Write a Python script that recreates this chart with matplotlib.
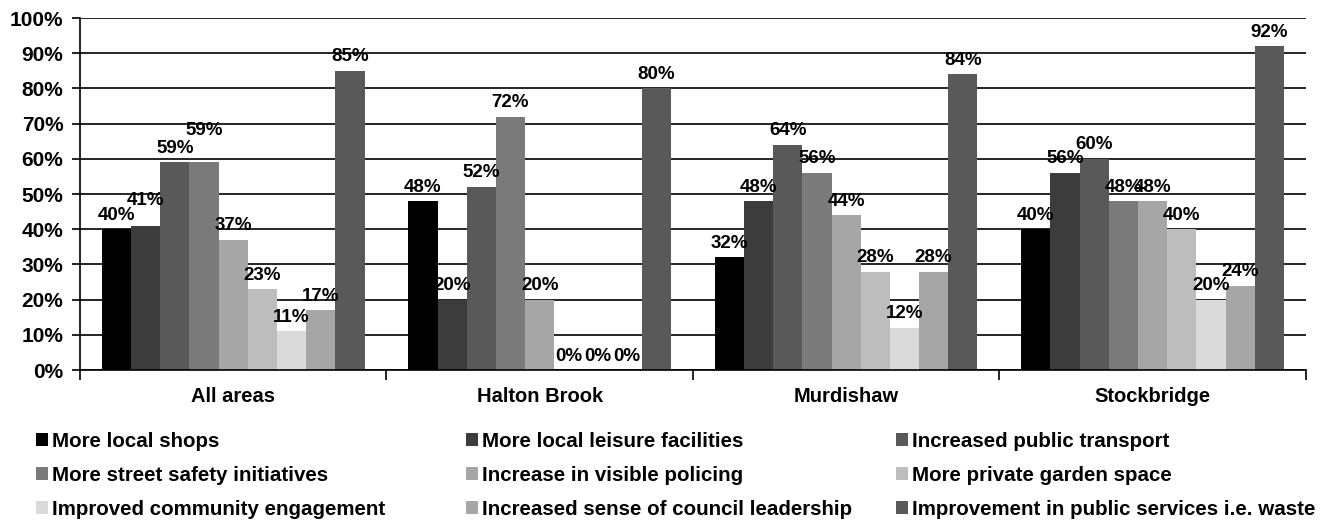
import numpy as np
import matplotlib.pyplot as plt
from matplotlib.patches import Patch

plt.rcParams['font.family'] = ['Liberation Sans', 'DejaVu Sans']
plt.rcParams['font.weight'] = 'bold'

# data
areas = ['All areas', 'Halton Brook', 'Murdishaw', 'Stockbridge']
series_names = ['More local shops', 'More local leisure facilities', 'Increased public transport',
                'More street safety initiatives', 'Increase in visible policing', 'More private garden space',
                'Improved community engagement', 'Increased sense of council leadership',
                'Improvement in public services i.e. waste']
local_shops = [40, 48, 32, 40]
leisure = [41, 20, 48, 56]
transport = [59, 52, 64, 60]
street_safety = [59, 72, 56, 48]
policing = [37, 20, 44, 48]
garden = [23, 0, 28, 40]
community = [11, 0, 12, 20]
council = [17, 0, 28, 24]
services = [85, 80, 84, 92]
values = [local_shops, leisure, transport, street_safety, policing, garden, community, council, services]

colors = ['#000000', '#3c3c3c', '#595959', '#7a7a7a', '#a6a6a6', '#bdbdbd', '#dadada', '#a6a6a6', '#595959']

# extra lift (points) for a few labels, like Excel's label placement in the original
label_raise = {(0, 1): 8, (0, 3): 13}

fig = plt.figure(figsize=(13.27, 5.22), dpi=100)
ax = fig.add_axes([0.0603, 0.291, 0.9237, 0.6745])

x = np.arange(len(areas))
n = len(values)
w = 1.0 / (n + 1.5)
for i, vals in enumerate(values):
    pos = x - 0.5 + (0.75 + i + 0.5) * w
    ax.bar(pos, vals, width=w, color=colors[i], edgecolor='none', zorder=2)
    for g, (px, v) in enumerate(zip(pos, vals)):
        ax.annotate('%d%%' % v, (px, v), xytext=(0, 4 + label_raise.get((g, i), 0)),
                    textcoords='offset points', ha='center', va='bottom',
                    fontsize=13.5, fontweight='bold', annotation_clip=False, zorder=3)

ax.set_xlim(-0.5, len(areas) - 0.5)
ax.set_ylim(0, 100)
ax.set_yticks(np.arange(0, 101, 10))
ax.set_yticklabels(['%d%%' % t for t in range(0, 101, 10)], fontsize=15, fontweight='bold')
ax.yaxis.grid(True, color='black', linewidth=1.2, zorder=0)
ax.set_axisbelow(True)

ax.set_xticks(x)
ax.set_xticklabels(areas, fontsize=14.5, fontweight='bold')
ax.tick_params(axis='x', length=0, pad=12)
ax.set_xticks(np.arange(-0.5, len(areas)), minor=True)
ax.tick_params(axis='x', which='minor', length=7, width=1.2, direction='out')
ax.tick_params(axis='y', length=6, width=1.2, direction='out', pad=6)

for s in ['top', 'right']:
    ax.spines[s].set_visible(False)
ax.spines['left'].set_linewidth(1.2)
ax.spines['bottom'].set_linewidth(1.2)

handles = [Patch(facecolor=c, edgecolor='none') for c in colors]
col_x = [0.027, 0.351, 0.675]
for c in range(3):
    idx = [c, c + 3, c + 6]
    fig.legend([handles[i] for i in idx], [series_names[i] for i in idx],
               loc='upper left', bbox_to_anchor=(col_x[c], 0.172), frameon=False,
               fontsize=14.8, handlelength=0.6, handleheight=0.6, handletextpad=0.2,
               labelspacing=0.72, borderaxespad=0, borderpad=0)

fig.savefig('out.png', dpi=100)
